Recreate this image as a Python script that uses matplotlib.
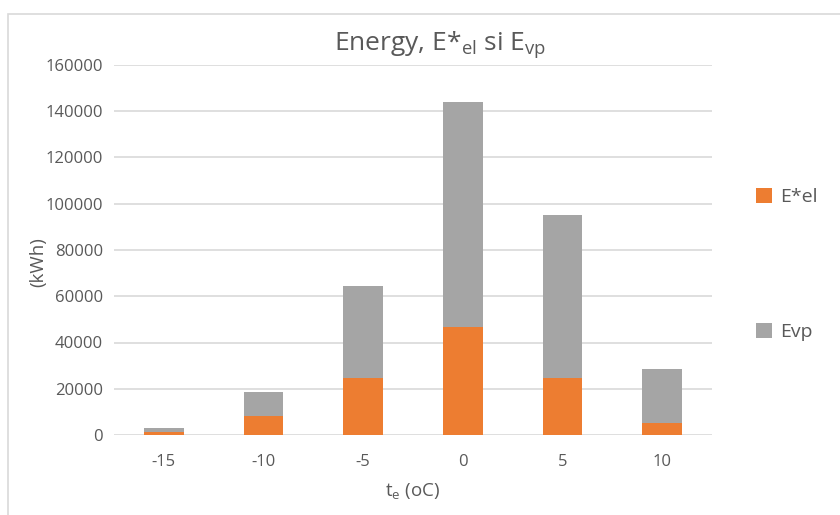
import matplotlib
matplotlib.use("Agg")
import matplotlib.pyplot as plt
from matplotlib.patches import Rectangle
import numpy as np

plt.rcParams['font.family'] = ['Open Sans', 'DejaVu Sans']

# outdoor temperature classes and energy per class (kWh)
temps = ["-15", "-10", "-5", "0", "5", "10"]
e_el = [1500, 8400, 24600, 46700, 24600, 5000]
e_vp = [1500, 10400, 39900, 97300, 70500, 23500]

orange = "#ED7D31"
grey = "#A5A5A5"
txt = "#595959"

fig = plt.figure(figsize=(8.4, 5.15), dpi=100)
ax = fig.add_axes([114 / 840, 1 - 435 / 515, 598 / 840, 370 / 515])

x = np.arange(len(temps))
ax.bar(x, e_el, width=0.4, color=orange, label="E*el", zorder=3)
ax.bar(x, e_vp, width=0.4, bottom=e_el, color=grey, label="Evp", zorder=3)

ax.set_xlim(-0.5, len(temps) - 0.5)
ax.set_ylim(0, 160000)
ax.set_yticks(range(0, 160001, 20000))
ax.set_xticks(x)
ax.set_xticklabels(temps)
ax.grid(axis="y", color="#D9D9D9", linewidth=1.2, zorder=0)
for s in ax.spines.values():
    s.set_visible(False)
ax.tick_params(length=0, labelsize=12, colors=txt, pad=8)
ax.tick_params(axis="x", pad=14)

ax.set_xlabel("t$_\\mathregular{e}$ (oC)", fontsize=13.5, color=txt, labelpad=8)
fig.text(38 / 840, 1 - 262 / 515, "(kWh)", rotation=90, fontsize=13.5, color=txt,
         ha="center", va="center")
fig.text(440 / 840, 1 - 45 / 515, "Energy, E*$_\\mathregular{el}$ si E$_\\mathregular{vp}$",
         fontsize=19, color=txt, ha="center", va="center")

leg = ax.legend(loc="upper left", bbox_to_anchor=(1.045, 0.715), frameon=False,
                fontsize=14, labelspacing=6.0, handlelength=0.8, handleheight=0.8,
                handletextpad=0.4)
for t in leg.get_texts():
    t.set_color(txt)

# chart frame
fig.patches.append(Rectangle((8 / 840, -0.1), 1.0, 1 - 14 / 515 + 0.1,
                             transform=fig.transFigure, fill=False,
                             edgecolor="#D9D9D9", linewidth=1.2))

fig.savefig("out.png", dpi=100)
